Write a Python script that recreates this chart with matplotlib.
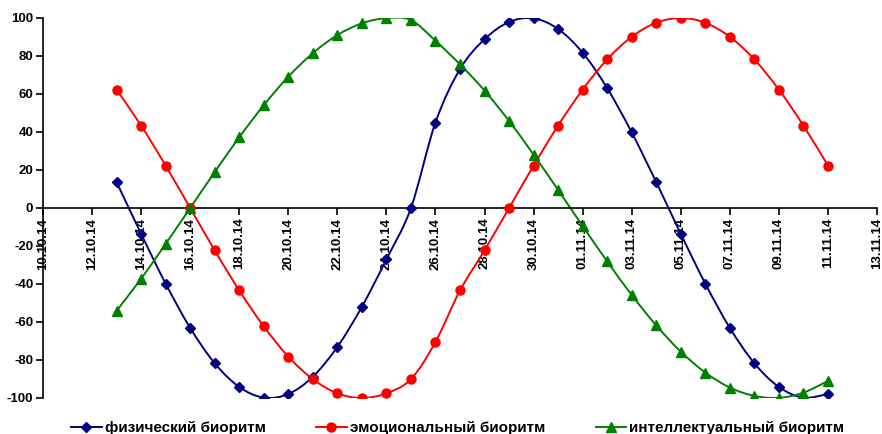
import matplotlib
matplotlib.use("Agg")
import matplotlib.pyplot as plt
import matplotlib.dates as mdates
from matplotlib.path import Path
from matplotlib.patches import PathPatch
from matplotlib.lines import Line2D
import numpy as np
import pandas as pd

# Data
# ----
dates = pd.date_range("2014-10-13", "2014-11-11", freq="D")

phys = [13.6, -13.6, -39.8, -63.1, -81.7, -94.2, -99.8, -97.9, -88.8, -73.1,
        -52.0, -27.0, 0.0, 45.0, 73.1, 88.8, 97.9, 99.8, 94.2, 81.7,
        63.1, 39.8, 13.6, -13.6, -39.8, -63.1, -81.7, -94.2, -99.8, -97.9]
emot = [62.3, 43.4, 22.3, 0.0, -22.3, -43.4, -62.3, -78.2, -90.1, -97.5,
        -100.0, -97.5, -90.1, -70.5, -43.4, -22.3, 0.0, 22.3, 43.4, 62.3,
        78.2, 90.1, 97.5, 100.0, 97.5, 90.1, 78.2, 62.3, 43.4, 22.3]
intel = [-54.1, -37.2, -18.9, 0.0, 18.9, 37.2, 54.1, 69.1, 81.5, 91.0,
         97.2, 99.9, 98.9, 88.0, 75.6, 61.8, 45.8, 28.1, 9.5, -9.5,
         -28.1, -45.8, -61.8, -75.6, -86.6, -94.5, -98.9, -99.9, -97.2, -91.0]

labels = ["физический биоритм", "эмоциональный биоритм", "интеллектуальный биоритм"]
x_start, x_end = "2014-10-10", "2014-11-13"

# --------------------------------------------------------------------------------------------------

plt.rcParams["font.family"] = ["Liberation Sans", "DejaVu Sans"]
plt.rcParams["font.weight"] = "bold"
plt.rcParams["axes.unicode_minus"] = False


def smooth_path(x, y):
  # Excel-like smoothed line: Catmull-Rom segments as cubic Bezier curves
  p = np.column_stack([x, y])
  pp = np.vstack([p[0], p, p[-1]])
  verts = [p[0]]
  codes = [Path.MOVETO]
  for i in range(len(p) - 1):
    a, b, c, d = pp[i], pp[i + 1], pp[i + 2], pp[i + 3]
    verts += [b + (c - a) / 6.0, c - (d - b) / 6.0, c]
    codes += [Path.CURVE4] * 3
  return Path(verts, codes)


xn = mdates.date2num(dates)

fig = plt.figure(figsize=(8.82, 4.34), dpi=100)
ax = fig.add_axes([43 / 882, 1 - 398 / 434, 834 / 882, 380 / 434])

series = [
  (phys, "#000080", "D", 5.5),
  (emot, "#FF0000", "o", 6.5),
  (intel, "#008000", "^", 6.5),
]

handles = []
for (vals, col, mk, ms), lab in zip(series, labels):
  ax.add_patch(PathPatch(smooth_path(xn, vals), fill=False, edgecolor=col, lw=1.4, zorder=2))
  ax.plot(dates, vals, linestyle="none", marker=mk, ms=ms, color=col, zorder=3)
  handles.append(Line2D([], [], color=col, lw=1.4, marker=mk, ms=ms, label=lab))

ax.set_xlim(pd.Timestamp(x_start), pd.Timestamp(x_end))
ax.set_ylim(-100, 100)

ax.set_xticks(pd.date_range(x_start, x_end, freq="2D"))
ax.xaxis.set_major_formatter(mdates.DateFormatter("%d.%m.%y"))
ax.set_yticks(np.arange(-100, 101, 20))

ax.spines["top"].set_visible(False)
ax.spines["right"].set_visible(False)
ax.spines["bottom"].set_position(("data", 0))
for s in ("left", "bottom"):
  ax.spines[s].set_linewidth(1.2)

ax.tick_params(axis="x", direction="out", length=5, width=1.2, pad=2,
               labelrotation=90, labelsize=9.5)
ax.tick_params(axis="y", direction="out", length=5, width=1.2, pad=2, labelsize=9.5)
for t in ax.get_xticklabels():
  t.set_verticalalignment("top")

fig.legend(handles=handles, loc="center", bbox_to_anchor=(0.519, 0.013), ncol=3,
           frameon=False, fontsize=11, handlelength=2.0, handletextpad=0.2,
           columnspacing=3.3, borderpad=0, borderaxespad=0)

plt.savefig("out.png", dpi=100)
